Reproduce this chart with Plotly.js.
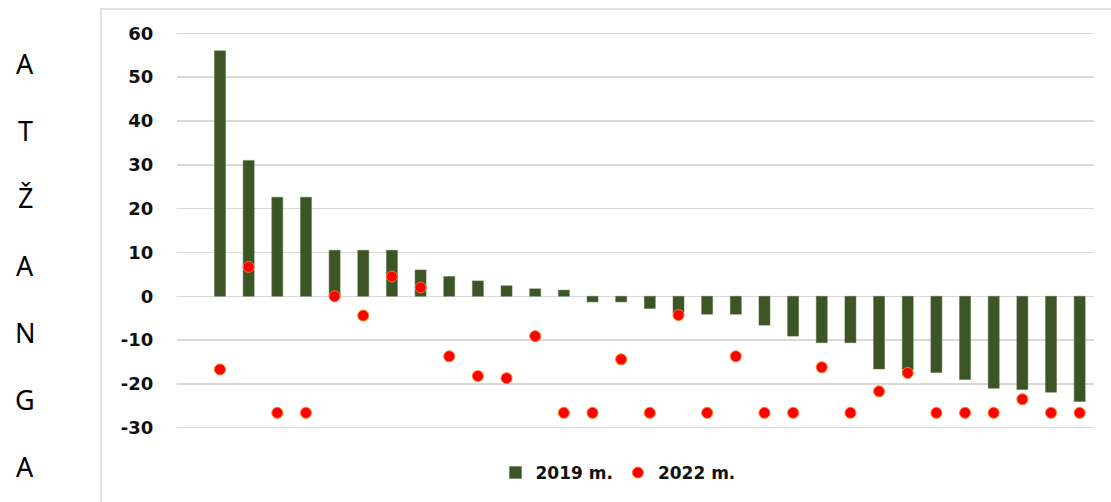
<!DOCTYPE html>
<html>
<head>
<meta charset="utf-8">
<script src="https://cdn.plot.ly/plotly-3.0.1.min.js"></script>
<style>
  html, body { margin: 0; padding: 0; background: #fff; }
  #chart { width: 1111px; height: 502px; }
</style>
</head>
<body>
<div id="chart"></div>
<script>
// ---- data ----
const categories = Array.from({length: 31}, (_, i) => String(i + 1));
const values2019 = [56, 31, 22.6, 22.6, 10.5, 10.5, 10.5, 6.0, 4.5, 3.5, 2.4, 1.7, 1.4,
  -1.3, -1.3, -2.8, -4.0, -4.1, -4.1, -6.6, -9.1, -10.6, -10.6, -16.6, -16.8, -17.4,
  -19.0, -21.0, -21.3, -21.9, -24.0];
const values2022 = [-16.7, 6.7, -26.6, -26.6, 0, -4.4, 4.5, 2.0, -13.7, -18.2, -18.7,
  -9.1, -26.6, -26.6, -14.4, -26.6, -4.3, -26.6, -13.7, -26.6, -26.6, -16.2, -26.6,
  -21.7, -17.5, -26.6, -26.6, -26.6, -23.5, -26.6, -26.6];
const seriesNames = ["2019 m.", "2022 m."];
const yTicks = [-30, -20, -10, 0, 10, 20, 30, 40, 50, 60];
const sideLetters = ["A", "T", "Ž", "A", "N", "G", "A"];

// ---- layout geometry (pixels) ----
const W = 1111, H = 502;
const M = { l: 177, r: 17, t: 24, b: 56 };
const plotW = W - M.l - M.r, plotH = H - M.t - M.b;
const pxX = px => (px - M.l) / plotW;
const pxY = py => (H - M.b - py) / plotH;

const tickFont = { family: "DejaVu Sans, Verdana, sans-serif", size: 18, weight: "bold", color: "#111" };
const legendFont = { family: "DejaVu Sans, Verdana, sans-serif", size: 17, weight: "bold", color: "#111" };

const traces = [
  {
    type: "bar",
    name: seriesNames[0],
    x: categories,
    y: values2019,
    marker: { color: "#3b5524", line: { color: "#5a7048", width: 0.5 } },
    hoverinfo: "y"
  },
  {
    type: "scatter",
    mode: "markers",
    name: seriesNames[1],
    x: categories,
    y: values2022,
    marker: { color: "#ff0000", size: 11, line: { color: "#ff7a1a", width: 1 } },
    hoverinfo: "y"
  }
];

const annotations = sideLetters.map((ch, i) => ({
  xref: "paper", yref: "paper",
  x: pxX(25), y: pxY(64 + i * 67.2),
  xanchor: "center", yanchor: "middle",
  text: ch, showarrow: false,
  font: { family: "Noto Sans, Open Sans, sans-serif", size: 27, color: "#000" }
}));

const layout = {
  width: W, height: H,
  margin: M,
  paper_bgcolor: "#fff",
  plot_bgcolor: "#fff",
  bargap: 0.615,
  showlegend: true,
  legend: {
    orientation: "h",
    x: pxX(618), y: pxY(473),
    xanchor: "center", yanchor: "middle",
    font: legendFont,
    itemwidth: 30,
    tracegroupgap: 0
  },
  xaxis: {
    type: "category",
    range: [-1.5, 30.5],
    showticklabels: false,
    showgrid: false,
    zeroline: false,
    showline: false,
    ticks: ""
  },
  yaxis: {
    range: [-33.94, 62.12],
    tickvals: yTicks,
    ticktext: yTicks.map(String),
    tickfont: tickFont,
    ticks: "outside",
    ticklen: 19,
    tickcolor: "rgba(0,0,0,0)",
    showgrid: true,
    gridcolor: "#d9d9d9",
    gridwidth: 1.5,
    zeroline: false,
    showline: false
  },
  shapes: [{
    type: "rect", xref: "paper", yref: "paper",
    x0: pxX(101), x1: pxX(1130), y0: pxY(520), y1: pxY(9),
    line: { color: "#d9d9d9", width: 1.5 },
    fillcolor: "rgba(0,0,0,0)",
    layer: "below"
  }],
  annotations: annotations
};

Plotly.newPlot("chart", traces, layout, { displayModeBar: false, staticPlot: true });
</script>
</body>
</html>
